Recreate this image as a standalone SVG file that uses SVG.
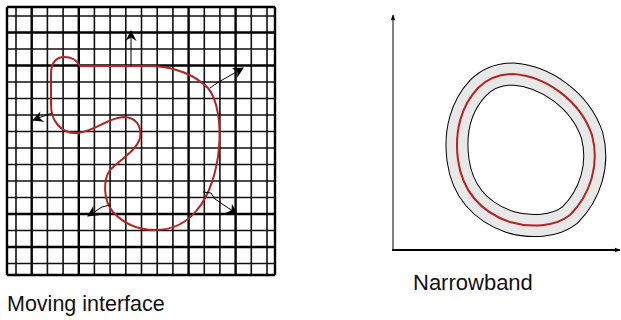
<svg xmlns="http://www.w3.org/2000/svg" width="621" height="320" viewBox="0 0 621 320">
<style>
.g{stroke:#111;stroke-width:1.6;fill:none}
.gt{stroke:#000;stroke-width:2.4;fill:none}
.red{stroke:#b42424;stroke-width:2;fill:none}
.arr{stroke:#000;stroke-width:1;fill:none}
.lbl{font-family:"Liberation Sans",Arial,sans-serif;fill:#111}
</style>
<defs>
<marker id="ah" viewBox="0 0 10 10" refX="9" refY="5" markerWidth="12" markerHeight="11" markerUnits="userSpaceOnUse" orient="auto">
<path d="M0,0 L10,5 L0,10 L3,5 Z" fill="#000"/>
</marker>
<marker id="ah2" viewBox="0 0 10 10" refX="9" refY="5" markerWidth="6" markerHeight="6" markerUnits="userSpaceOnUse" orient="auto">
<path d="M0,1 L10,5 L0,9 Z" fill="#000"/>
</marker>
</defs>
<rect width="621" height="320" fill="#fff"/>
<g id="grid">
<path class="g" d="M16,7V275M47.4,7V275M63.1,7V275M94.4,7V275M110.1,7V275M125.8,7V275M141.5,7V275M157.2,7V275M172.9,7V275M204.3,7V275M219.9,7V275M251.3,7V275M267,7V275"/>
<path class="gt" d="M7,7V275M31.7,7V275M78.8,7V275M188.6,7V275M235.6,7V275M275,7V275"/>
<path class="g" d="M7,16H275M7,49H275M7,82H275M7,98.5H275M7,115H275M7,131.5H275M7,148H275M7,164.5H275M7,181H275M7,197.5H275M7,230.5H275M7,263.5H275"/>
<path class="gt" d="M7,7H275M7,32.5H275M7,65.5H275M7,214H275M7,247H275M7,275H275"/>
</g>
<g id="interface">
<path class="red" d="M80,66 L153,66 C175,67 195,75 208,88 C218,100 221,125 219,148 C217,170 210,195 197,210 C185,225 170,230 155,230 C140,230 125,225 113,212 C103,200 103,180 110,170 C120,160 137,150 140,138 C142,126 136,117 123,117 C108,118 95,131 78,133 C60,134 51,120 51,105 L51,74 C51,62 57,57 64,57 C72,57 77,60 80,66 Z"/>
</g>
<g id="connectors">
<path class="arr" marker-end="url(#ah)" d="M131,66 L131,31"/>
<path class="arr" marker-end="url(#ah)" d="M210,88 L217,83 L243,68"/>
<path class="arr" marker-end="url(#ah)" d="M52,113 L33,120"/>
<path class="arr" marker-end="url(#ah)" d="M110,205 L102,207 L88,216"/>
<path class="arr" marker-end="url(#ah)" d="M203,192 L211,193 L215,199 L237,214"/>
</g>
<text class="lbl" x="7" y="311" font-size="21.5">Moving interface</text>
<g id="axes">
<path d="M393,250 V15" stroke="#000" stroke-width="1" fill="none" marker-end="url(#ah2)"/>
<path d="M392,250 H620" stroke="#000" stroke-width="2" fill="none" marker-end="url(#ah2)"/>
</g>
<g id="narrowband">
<path d="M513,74 C545,76 580,100 592,135 C600,165 590,195 570,215 C555,227 530,228 510,222 C480,212 462,190 458,160 C454,130 462,105 478,88 C488,78 500,74 513,74 Z" fill="#fff" stroke="#000" stroke-width="23"/>
<path d="M513,74 C545,76 580,100 592,135 C600,165 590,195 570,215 C555,227 530,228 510,222 C480,212 462,190 458,160 C454,130 462,105 478,88 C488,78 500,74 513,74 Z" fill="none" stroke="#e8e8e8" stroke-width="21"/>
<path class="red" d="M513,74 C545,76 580,100 592,135 C600,165 590,195 570,215 C555,227 530,228 510,222 C480,212 462,190 458,160 C454,130 462,105 478,88 C488,78 500,74 513,74 Z"/>
</g>
<text class="lbl" x="413" y="290" font-size="22">Narrowband</text>
</svg>
